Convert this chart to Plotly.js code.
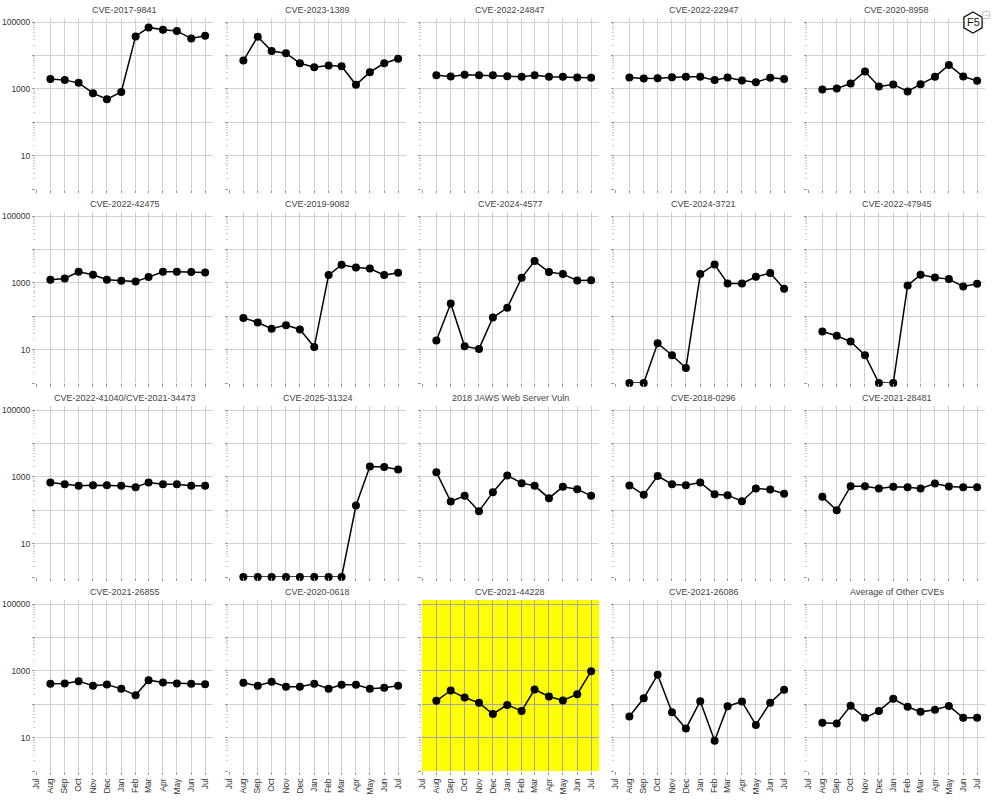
<!DOCTYPE html>
<html><head><meta charset="utf-8">
<script src="https://cdn.plot.ly/plotly-3.0.1.min.js"></script>
<style>html,body{margin:0;padding:0;background:#fff}#chart{width:1000px;height:800px}</style>
</head><body><div id="chart"></div>
<script>
// ---- data ----
const months = ['2024-08-01','2024-09-01','2024-10-01','2024-11-01','2024-12-01','2025-01-01','2025-02-01','2025-03-01','2025-04-01','2025-05-01','2025-06-01','2025-07-01'];
const monthTickDates = ['2024-07-01','2024-08-01','2024-09-01','2024-10-01','2024-11-01','2024-12-01','2025-01-01','2025-02-01','2025-03-01','2025-04-01','2025-05-01','2025-06-01','2025-07-01'];
const monthTickLabels = ['Jul','Aug','Sep','Oct','Nov','Dec','Jan','Feb','Mar','Apr','May','Jun','Jul'];
const yTickVals = [1,10,100,1000,10000,100000];
const yTickText = ['','10','','1000','','100000'];
const panelTitles = ['CVE-2017-9841','CVE-2023-1389','CVE-2022-24847','CVE-2022-22947','CVE-2020-8958',
  'CVE-2022-42475','CVE-2019-9082','CVE-2024-4577','CVE-2024-3721','CVE-2022-47945',
  'CVE-2022-41040/CVE-2021-34473','CVE-2025-31324','2018 JAWS Web Server Vuln','CVE-2018-0296','CVE-2021-28481',
  'CVE-2021-26855','CVE-2020-0618','CVE-2021-44228','CVE-2021-26086','Average of Other CVEs'];
const cve_2017_9841 = [1950,1820,1510,740,490,800,37000,69000,59000,54000,32000,39000];
const cve_2023_1389 = [7000,36500,13600,11600,5800,4400,5000,4750,1320,3150,5800,7900];
const cve_2022_24847 = [2560,2340,2620,2560,2560,2390,2280,2560,2280,2280,2180,2130];
const cve_2022_22947 = [2180,2040,2080,2230,2280,2280,1820,2180,1770,1580,2130,1950];
const cve_2020_8958 = [955,1020,1440,3290,1170,1350,830,1380,2280,5200,2340,1730];
const cve_2022_42475 = [1230,1350,2140,1740,1230,1150,1100,1480,2140,2140,2090,2040];
const cve_2019_9082 = [89,65,42,54,40,12,1700,3470,2880,2690,1700,2000];
const cve_2024_4577 = [18.6,240,12.6,10.5,91,178,1410,4470,2090,1820,1180,1200];
const cve_2024_3721 = [1,1,15.5,6.8,2.8,1820,3550,955,955,1510,1950,660];
const cve_2022_47945 = [35,26,17.4,6.8,1,1,830,1740,1450,1290,780,930];
const cve_2022_41040 = [680,600,540,560,560,540,490,680,600,600,540,540];
const cve_2025_31324 = [1,1,1,1,1,1,1,1,138,2040,1950,1660];
const jaws_2018 = [1380,182,269,93,347,1100,646,537,229,501,427,269];
const cve_2018_0296 = [550,288,1050,603,562,676,302,282,186,447,417,309];
const cve_2021_28481 = [251,100,525,525,447,501,490,447,631,513,490,490];
const cve_2021_26855 = [407,417,490,355,389,288,186,525,447,417,407,398];
const cve_2020_0618 = [437,355,469,332,332,408,289,381,381,289,310,355];
const cve_2021_44228 = [126,257,158,110,51,95,63,275,170,129,200,977];
const cve_2021_26086 = [43,151,759,57,18.6,123,8.1,87,120,24,110,269];
const avg_other = [27.7,26.6,89.5,39,63,145,84,59,68,89,39,39];
const highlighted = 'CVE-2021-44228';

const series = [cve_2017_9841,cve_2023_1389,cve_2022_24847,cve_2022_22947,cve_2020_8958,
  cve_2022_42475,cve_2019_9082,cve_2024_4577,cve_2024_3721,cve_2022_47945,
  cve_2022_41040,cve_2025_31324,jaws_2018,cve_2018_0296,cve_2021_28481,
  cve_2021_26855,cve_2020_0618,cve_2021_44228,cve_2021_26086,avg_other];

// ---- layout geometry (pixels) ----
const W = 1000, H = 800;
const colLeft = [36,229,422,615,808], colW = 177;
const rowTop = [18,212,406,600], rowH = 171;
const FONT = 'Liberation Sans, Arial, sans-serif';
const gridColor = '#cfcfcf';

const minorVals = [];
for (let d = 0; d < 5; d++) for (let k = 2; k <= 9; k++) minorVals.push(k * Math.pow(10, d));

const traces = [], layout = {
  width: W, height: H, margin: {l:0,r:0,t:0,b:0},
  paper_bgcolor: '#fff', plot_bgcolor: 'rgba(0,0,0,0)',
  showlegend: false, font: {family: FONT, size: 9, color: '#333'},
  annotations: [], shapes: []
};

series.forEach((vals, i) => {
  const r = Math.floor(i / 5), c = i % 5;
  const n = i === 0 ? '' : String(i + 1);
  const xa = 'xaxis' + n, ya = 'yaxis' + n;
  const x0 = colLeft[c] / W, x1 = (colLeft[c] + colW) / W;
  const y1 = 1 - rowTop[r] / H, y0 = 1 - (rowTop[r] + rowH) / H;
  const isHi = panelTitles[i] === highlighted;
  const gc = isHi ? '#a6a6a6' : gridColor;
  layout[xa] = {
    domain: [x0, x1], anchor: 'y' + n, type: 'date',
    range: ['2024-07-01', '2025-07-18'],
    tickmode: 'array', tickvals: monthTickDates, ticktext: monthTickLabels,
    showticklabels: r === 3, tickangle: -90,
    tickfont: {family: FONT, size: 8.5, color: '#333'},
    ticks: 'outside', ticklen: 3, tickcolor: '#999', tickwidth: 1,
    showgrid: true, gridcolor: gc, gridwidth: 1,
    showline: false, zeroline: false, fixedrange: true
  };
  layout[ya] = {
    domain: [y0, y1], anchor: 'x' + n, type: 'log', range: [0, 5.12],
    tickmode: 'array', tickvals: yTickVals, ticktext: yTickText,
    showticklabels: c === 0,
    tickfont: {family: FONT, size: 8.5, color: '#333'},
    ticks: 'outside', ticklen: 3, tickcolor: '#999', tickwidth: 1,
    minor: {tickmode: 'array', tickvals: minorVals, ticks: 'outside', ticklen: 2, tickcolor: '#bbb', tickwidth: 0.8, showgrid: false},
    showgrid: true, gridcolor: gc, gridwidth: 1,
    showline: false, zeroline: false, fixedrange: true
  };
  if (isHi) {
    layout.shapes.push({type: 'rect', xref: 'paper', yref: 'paper',
      x0: x0, x1: x1, y0: y0, y1: y1, fillcolor: '#ffff00', line: {width: 0}, layer: 'below'});
  }
  layout.annotations.push({
    text: panelTitles[i], xref: 'paper', yref: 'paper', showarrow: false,
    x: (x0 + x1) / 2, y: 1 - (rowTop[r] - 8) / H, xanchor: 'center', yanchor: 'middle',
    font: {family: FONT, size: 9, color: '#444'}
  });
  traces.push({
    type: 'scatter', mode: 'lines+markers', x: months, y: vals,
    xaxis: 'x' + n, yaxis: 'y' + n, cliponaxis: false,
    line: {color: '#000', width: 1.5},
    marker: {color: '#000', size: 8, symbol: 'circle'},
    hoverinfo: 'skip'
  });
});

// ---- F5 logo (top right) ----
const px = v => v / W, py = v => 1 - v / H;
const cx = 973, cy = 22.5, rr = 10.5;
let path = '';
for (let k = 0; k < 6; k++) {
  const a = Math.PI / 2 - k * Math.PI / 3;
  const vx = cx + rr * Math.cos(a), vy = cy - rr * Math.sin(a);
  path += (k === 0 ? 'M' : 'L') + px(vx).toFixed(5) + ',' + py(vy).toFixed(5);
}
path += 'Z';
layout.shapes.push({type: 'path', xref: 'paper', yref: 'paper', path: path, line: {color: '#111', width: 1.3}, fillcolor: '#fff', layer: 'above'});
layout.shapes.push({type: 'circle', xref: 'paper', yref: 'paper', x0: px(982), x1: px(990), y0: py(19), y1: py(11), line: {color: '#aaa', width: 0.8}, fillcolor: '#fff', layer: 'above'});
layout.annotations.push({text: 'F5', xref: 'paper', yref: 'paper', x: px(cx), y: py(cy), showarrow: false, xanchor: 'center', yanchor: 'middle', font: {family: FONT, size: 11, color: '#111'}});
layout.annotations.push({text: 'LABS', xref: 'paper', yref: 'paper', x: px(986), y: py(15), showarrow: false, xanchor: 'center', yanchor: 'middle', font: {family: FONT, size: 2.5, color: '#999'}});

Plotly.newPlot('chart', traces, layout, {displayModeBar: false, staticPlot: true});
</script></body></html>
